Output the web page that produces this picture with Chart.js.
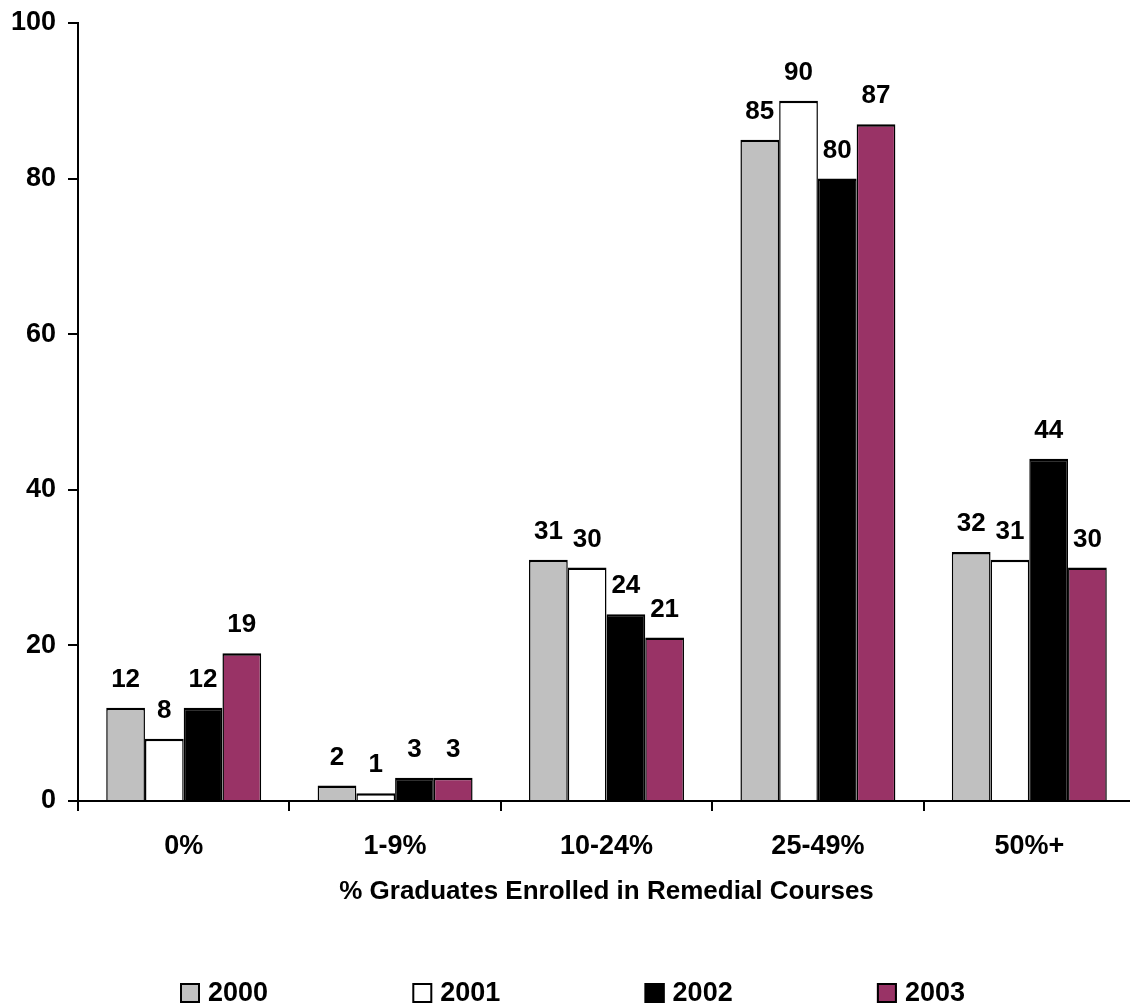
<!DOCTYPE html>
<html>
<head>
<meta charset="utf-8">
<script src="https://cdn.jsdelivr.net/npm/chart.js@4"></script>
<style>
  html, body { margin: 0; padding: 0; background: #fff; overflow: hidden; width: 1130px; height: 1007px; }
  canvas { display: block; }
</style>
</head>
<body>
<canvas id="c" width="1135" height="1007"></canvas>
<script>
const categories = ['0%', '1-9%', '10-24%', '25-49%', '50%+'];
const years = ['2000', '2001', '2002', '2003'];
const v2000 = [12, 2, 31, 85, 32];
const v2001 = [8, 1, 30, 90, 31];
const v2002 = [12, 3, 24, 80, 44];
const v2003 = [19, 3, 21, 87, 30];
const yMin = 0, yMax = 100, yStep = 20;
const axisTitle = '% Graduates Enrolled in Remedial Courses';

const FONT = "'Liberation Sans', Arial, Helvetica, sans-serif";
const colors = ['#C0C0C0', '#FFFFFF', '#000000', '#993366'];
const seriesValues = [v2000, v2001, v2002, v2003];

const valueLabels = {
  id: 'valueLabels',
  afterDatasetsDraw(chart) {
    const ctx = chart.ctx;
    ctx.save();
    ctx.font = 'bold 26px ' + FONT;
    ctx.fillStyle = '#000';
    ctx.textAlign = 'center';
    ctx.textBaseline = 'middle';
    chart.data.datasets.forEach((ds, i) => {
      const meta = chart.getDatasetMeta(i);
      meta.data.forEach((el, j) => {
        ctx.fillText(String(ds.data[j]), el.x, el.y - 28);
      });
    });
    ctx.restore();
  }
};

const bottomLegend = {
  id: 'bottomLegend',
  afterDraw(chart) {
    const ctx = chart.ctx;
    ctx.save();
    ctx.font = 'bold 27px ' + FONT;
    ctx.textAlign = 'left';
    ctx.textBaseline = 'middle';
    const startX = 180, step = 232.3, cy = 993, box = 20;
    chart.data.datasets.forEach((ds, i) => {
      const x = startX + i * step;
      ctx.fillStyle = ds.backgroundColor;
      ctx.fillRect(x, cy - box / 2, box, box);
      ctx.lineWidth = 2;
      ctx.strokeStyle = '#000';
      ctx.strokeRect(x + 1, cy - box / 2 + 1, box - 2, box - 2);
      ctx.fillStyle = '#000';
      ctx.fillText(ds.label, x + box + 8, cy + 1);
    });
    ctx.restore();
  }
};

new Chart(document.getElementById('c'), {
  type: 'bar',
  data: {
    labels: categories,
    datasets: years.map((y, i) => ({
      label: y,
      data: seriesValues[i],
      backgroundColor: colors[i],
      borderColor: '#000',
      borderWidth: { top: 2.5, left: 1.5, right: 1.5, bottom: 0 },
      borderSkipped: false,
      categoryPercentage: 0.733,
      barPercentage: 1.0
    }))
  },
  options: {
    responsive: false,
    animation: false,
    devicePixelRatio: 1,
    layout: { padding: { top: 23, right: 0, bottom: 96, left: 0 } },
    plugins: {
      legend: { display: false },
      tooltip: { enabled: false },
      title: { display: false }
    },
    scales: {
      x: {
        type: 'category',
        offset: true,
        grid: { offset: true, drawOnChartArea: false, drawTicks: true, tickLength: 10, color: '#000', lineWidth: 2 },
        border: { display: true, color: '#000', width: 2 },
        ticks: { color: '#000', font: { family: FONT, size: 27, weight: 'bold' }, padding: 19, maxRotation: 0 },
        title: { display: true, text: axisTitle, color: '#000', font: { family: FONT, size: 26, weight: 'bold' }, padding: { top: 0, bottom: 4 } },
        afterFit(scale) { scale.height = 110; }
      },
      y: {
        min: yMin,
        max: yMax,
        grid: { drawOnChartArea: false, drawTicks: true, tickLength: 10, color: '#000', lineWidth: 2 },
        border: { display: true, color: '#000', width: 2 },
        ticks: { stepSize: yStep, color: '#000', font: { family: FONT, size: 27, weight: 'bold' }, padding: 12 },
        afterFit(scale) { scale.width = 78; scale.paddingTop = 4; scale.paddingBottom = 4; }
      }
    }
  },
  plugins: [valueLabels, bottomLegend]
});
</script>
</body>
</html>
